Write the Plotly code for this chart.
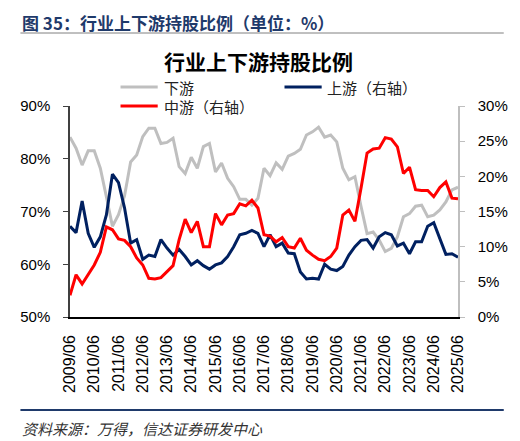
import plotly.graph_objects as go

# ---- data (quarterly, 2009/06 - 2025/06) ----
years = list(range(2009, 2026))
quarters = []
for y in years:
    for m in ["03", "06", "09", "12"]:
        quarters.append(f"{y}/{m}")
quarters = quarters[quarters.index("2009/06"):quarters.index("2025/06") + 1]

downstream = [84.1, 82.0, 78.8, 81.5, 81.5, 78.2, 72.8, 67.2, 69.4, 73.0,
              79.4, 80.7, 84.2, 85.8, 85.8, 82.9, 83.1, 83.9, 78.5, 77.2,
              80.3, 78.2, 82.3, 82.9, 77.5, 79.2, 76.3, 74.7, 72.3, 72.3,
              71.2, 72.5, 78.2, 76.8, 79.2, 78.0, 80.5, 81.0, 81.8, 84.5,
              85.1, 86.0, 84.1, 84.5, 83.2, 78.2, 76.0, 76.6, 71.0, 65.8,
              66.1, 64.6, 62.4, 63.0, 65.2, 69.0, 69.6, 71.0, 71.2, 69.0,
              69.3, 70.3, 71.8, 74.1, 74.6]
upstream = [12.9, 12.0, 16.5, 11.9, 9.9, 11.4, 14.5, 20.3, 19.1, 15.5,
            10.5, 11.0, 8.2, 8.8, 8.6, 11.0, 9.8, 8.8, 9.6, 8.6,
            7.4, 8.0, 7.3, 6.8, 7.4, 7.7, 8.6, 10.0, 11.7, 11.9,
            12.3, 11.9, 10.0, 11.7, 10.0, 10.5, 9.1, 9.0, 6.4, 5.4,
            5.5, 5.4, 7.5, 6.8, 6.6, 7.2, 8.8, 10.0, 10.9, 11.0,
            9.8, 11.4, 12.0, 11.7, 10.1, 10.5, 9.0, 10.7, 10.7, 12.9,
            13.4, 11.2, 8.9, 9.0, 8.5]
midstream = [3.1, 6.0, 4.7, 6.0, 7.4, 9.2, 12.8, 12.4, 11.1, 10.9,
             10.0, 8.4, 7.4, 5.5, 5.4, 5.6, 6.5, 7.3, 11.0, 13.9,
             12.0, 13.6, 10.0, 10.0, 14.7, 13.1, 14.5, 14.7, 16.1, 15.8,
             16.6, 15.5, 11.7, 11.5, 10.7, 11.3, 10.0, 9.8, 11.2, 9.5,
             8.8, 8.2, 8.0, 8.6, 9.8, 14.5, 15.2, 13.6, 18.3, 23.3,
             23.9, 24.0, 25.5, 25.3, 24.2, 20.4, 21.3, 18.1, 18.0, 18.0,
             17.1, 18.4, 19.2, 16.9, 16.8]
tick_labels = [q for q in quarters if q.endswith("/06")]
left_ticks = [50, 60, 70, 80, 90]
right_ticks = [0, 5, 10, 15, 20, 25, 30]

GRAY = "#BFBFBF"
RED = "#FF0000"
BLUE = "#002060"
CJK = "Noto Sans CJK SC"
LAT = "Liberation Sans"

# page is rendered with the browser's default 8px body margin
OFF = 8
PAGE_W, PAGE_H = 520, 441
W, H = PAGE_W - OFF, PAGE_H - OFF
# plot area in page pixels
L, R, T, B = 60, 467, 106, 317


def px(x):
    return (x - L) / (R - L)


def py(y):
    return (B - y) / (B - T)


fig = go.Figure()
fig.add_trace(go.Scatter(x=quarters, y=downstream, mode="lines", name="下游",
                         line=dict(color=GRAY, width=3), yaxis="y"))
fig.add_trace(go.Scatter(x=quarters, y=upstream, mode="lines", name="上游（右轴）",
                         line=dict(color=BLUE, width=3), yaxis="y2"))
fig.add_trace(go.Scatter(x=quarters, y=midstream, mode="lines", name="中游（右轴）",
                         line=dict(color=RED, width=3), yaxis="y2"))

fig.update_layout(
    width=W, height=H, autosize=False,
    margin=dict(l=L - OFF, r=PAGE_W - R, t=T - OFF, b=PAGE_H - B, pad=0),
    paper_bgcolor="white", plot_bgcolor="white",
    showlegend=False,
    xaxis=dict(type="category", range=[0, len(quarters) - 1],
               tickmode="array", tickvals=tick_labels, ticktext=tick_labels,
               tickangle=-90, tickfont=dict(family=LAT, size=16, color="black"),
               showgrid=False, zeroline=False, showline=True, linecolor="black",
               linewidth=1.5, ticks="", ticklabelstandoff=10),
    yaxis=dict(range=[50, 90], tickvals=left_ticks,
               ticktext=[f"{v}%" for v in left_ticks],
               tickfont=dict(family=LAT, size=15, color="black"),
               showgrid=False, zeroline=False, showline=True, linecolor="#404040",
               linewidth=1.5, ticks="outside", ticklen=5, tickcolor="#404040",
               ticklabelstandoff=10),
    yaxis2=dict(range=[0, 30], tickvals=right_ticks,
                ticktext=[f"{v}%" for v in right_ticks],
                overlaying="y", side="right",
                tickfont=dict(family=LAT, size=15, color="black"),
                showgrid=False, zeroline=False, showline=True, linecolor=GRAY,
                linewidth=1.5, ticks="outside", ticklen=5, tickcolor=GRAY,
                ticklabelstandoff=10),
)

shapes = []
annotations = []
# header separator
shapes.append(dict(type="line", xref="paper", yref="paper", x0=px(OFF), x1=px(515),
                   y0=py(33), y1=py(33), line=dict(color="#808080", width=1)))
# footer separator
shapes.append(dict(type="line", xref="paper", yref="paper", x0=px(OFF), x1=px(515),
                   y0=py(410), y1=py(410), line=dict(color="#1F3A6B", width=2)))
# legend lines
legend_items = [("下游", GRAY, 113, 87), ("上游（右轴）", BLUE, 285, 87),
                ("中游（右轴）", RED, 113, 106)]
for name, col, x0, y0 in legend_items:
    shapes.append(dict(type="line", xref="paper", yref="paper", x0=px(x0),
                       x1=px(x0 + 39), y0=py(y0), y1=py(y0),
                       line=dict(color=col, width=3)))
    annotations.append(dict(text=name, xref="paper", yref="paper",
                            x=px(x0 + 43), y=py(y0), xanchor="left",
                            yanchor="middle", showarrow=False,
                            font=dict(family=CJK, size=15, color="#222222")))

annotations.append(dict(text="<b>图 35：行业上下游持股比例（单位：%）</b>",
                        xref="paper", yref="paper", x=px(OFF), y=py(OFF),
                        xanchor="left", yanchor="top", showarrow=False,
                        font=dict(family=CJK, size=17, color="#1F3A6B")))
annotations.append(dict(text="<b>行业上下游持股比例</b>",
                        xref="paper", yref="paper", x=px(258), y=py(61),
                        xanchor="center", yanchor="middle", showarrow=False,
                        font=dict(family=CJK, size=21, color="black")))
annotations.append(dict(text="<i>资料来源：万得，信达证券研发中心</i>",
                        xref="paper", yref="paper", x=px(OFF), y=py(428),
                        xanchor="left", yanchor="middle", showarrow=False,
                        font=dict(family=CJK, size=15, color="#333333")))

fig.update_layout(shapes=shapes, annotations=annotations)
fig.write_html("out.html")
